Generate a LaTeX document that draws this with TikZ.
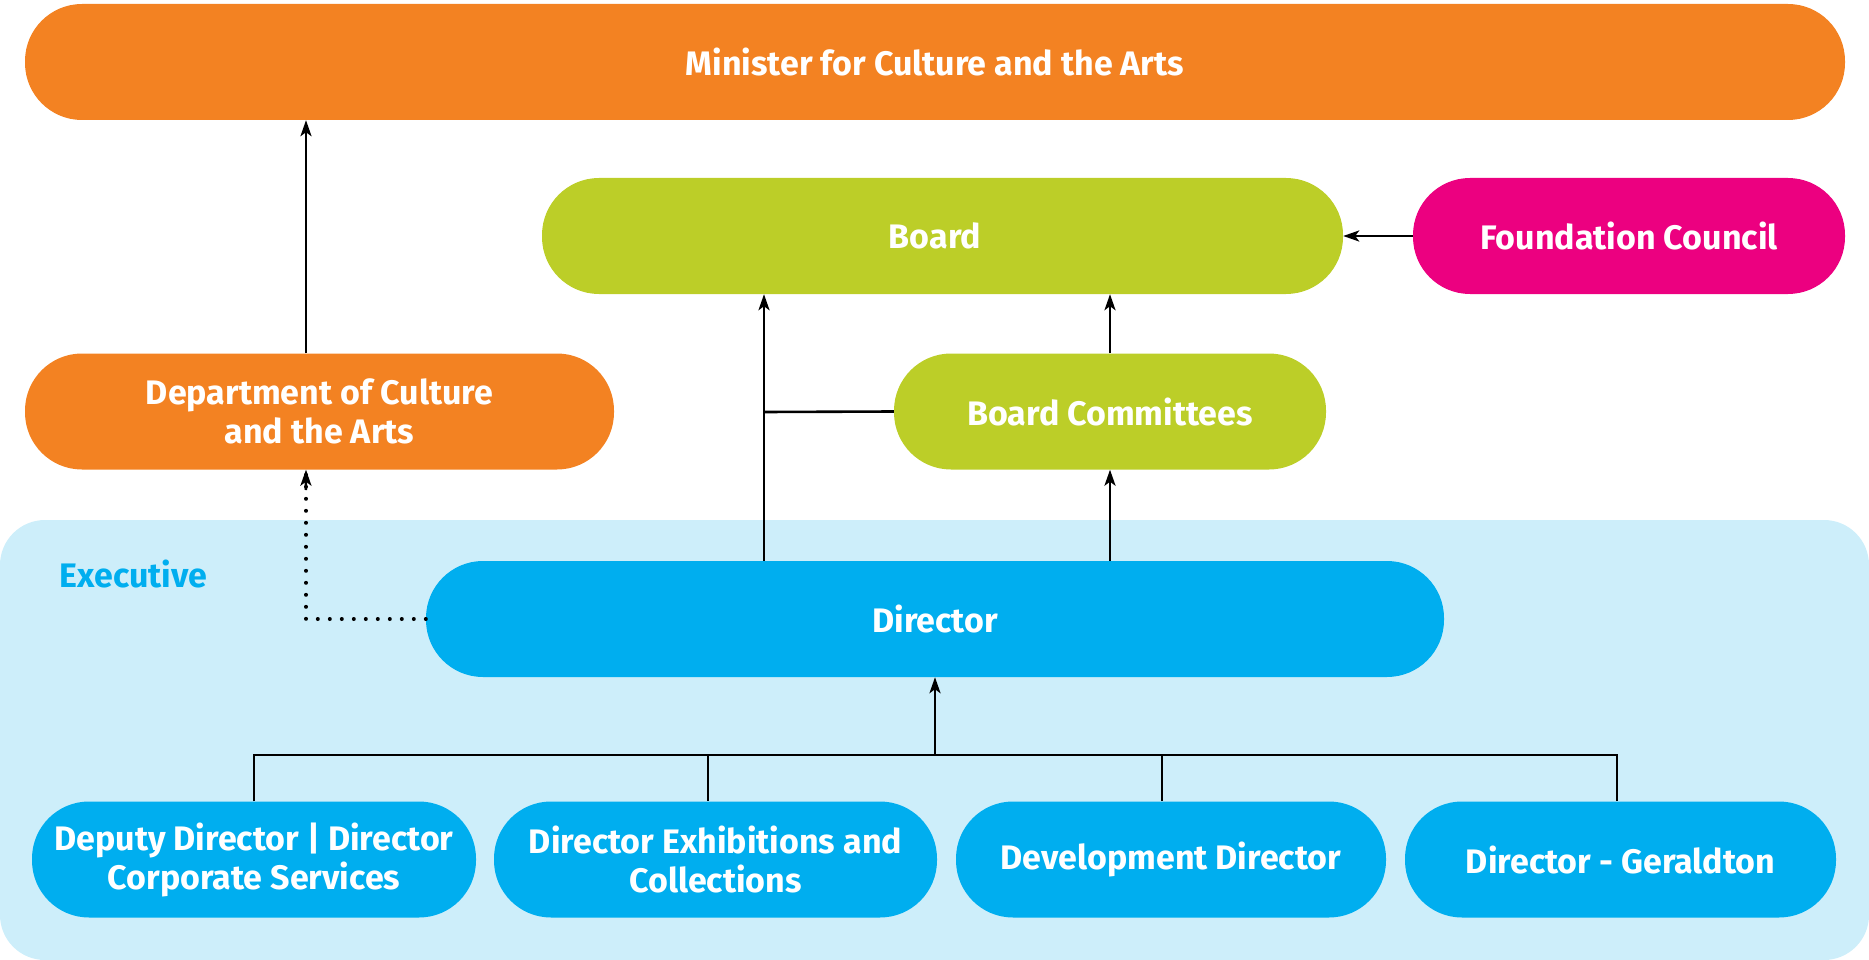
\documentclass[tikz,border=0pt]{standalone}
\usepackage{fontspec}
\setmainfont{Fira Sans}
\usetikzlibrary{arrows.meta}
\definecolor{corange}{HTML}{F38222}
\definecolor{cgreen}{HTML}{BCCE28}
\definecolor{cmagenta}{HTML}{EC0080}
\definecolor{cblue}{HTML}{00AEEF}
\definecolor{clight}{HTML}{CDEEFA}
\tikzset{
  pill/.style={rounded corners=57pt, inner sep=0pt, text=white, align=center,
    font=\fontsize{34}{39}\selectfont\bfseries, minimum height=116pt},
  conn/.style={line width=2.6pt, -{Stealth[length=16pt,width=11pt,inset=4pt]}},
  plain/.style={line width=2.6pt},
  dots/.style={line width=4pt, line cap=round, dash pattern=on 0pt off 12pt}
}
\begin{document}
\begin{tikzpicture}[x=1pt,y=-1pt]
\useasboundingbox (0,0) rectangle (1869,960);
\fill[clight, rounded corners=45pt] (0,520) rectangle (1869,960);
\node[text=cblue, font=\fontsize{34}{38}\selectfont\bfseries, anchor=west] (exec) at (56,574) {Executive};

\node[pill, fill=corange, minimum width=1820pt] (min) at (935,62) {Minister for Culture and the Arts};
\node[pill, fill=cgreen, minimum width=801pt] (board) at (942.5,236) {Board\hspace*{15pt}};
\node[pill, fill=cmagenta, minimum width=432pt] (fc) at (1629,236) {Foundation Council};
\node[pill, fill=corange, minimum width=589pt] (dept) at (319.5,411.5) {Department of Culture\\and the Arts};
\node[pill, fill=cgreen, minimum width=432pt] (bc) at (1110,411.5) {Board Committees};
\node[pill, fill=cblue, minimum width=1018pt] (dir) at (935,619) {Director};

\node[pill, fill=cblue, minimum width=444pt] (dd) at (254,859.5) {Deputy Director | Director\\Corporate Services};
\node[pill, fill=cblue, minimum width=443pt] (dec) at (715.5,859.5) {Director Exhibitions and\\Collections};
\node[pill, fill=cblue, minimum width=430pt] (dev) at (1171,859.5) {Development Director};
\node[pill, fill=cblue, minimum width=431pt] (geo) at (1620.5,859.5) {Director - Geraldton};

% coordinates
\coordinate (bus) at (935,755);
\coordinate (bcl) at (764,412);
\coordinate (dotc) at (306,619);

\draw[conn] (dept.north -| 306,0) -- (min.south -| 306,0);
\draw[conn] (dir.north -| 764,0) -- (board.south -| 764,0);
\draw[plain] (bcl) -- (bc.west);
\draw[conn] (bc.north) -- (board.south -| bc.north);
\draw[conn] (dir.north -| bc.north) -- (bc.south);
\draw[conn] (fc.west) -- (board.east);
\draw[dots] (dir.west) -- (dotc) -- (dept.south -| dotc);
\draw[line width=2.6pt, -{Stealth[length=16pt,width=11pt,inset=4pt]}] (305.9,490) -- (dept.south -| dotc);

\draw[conn] (bus) -- (dir.south);
\draw[plain] (dd.north) |- (bus) -| (geo.north -| 1617,0);
\draw[plain] (708,755) -- (dec.north -| 708,0);
\draw[plain] (1162,755) -- (dev.north -| 1162,0);
\end{tikzpicture}
\end{document}
